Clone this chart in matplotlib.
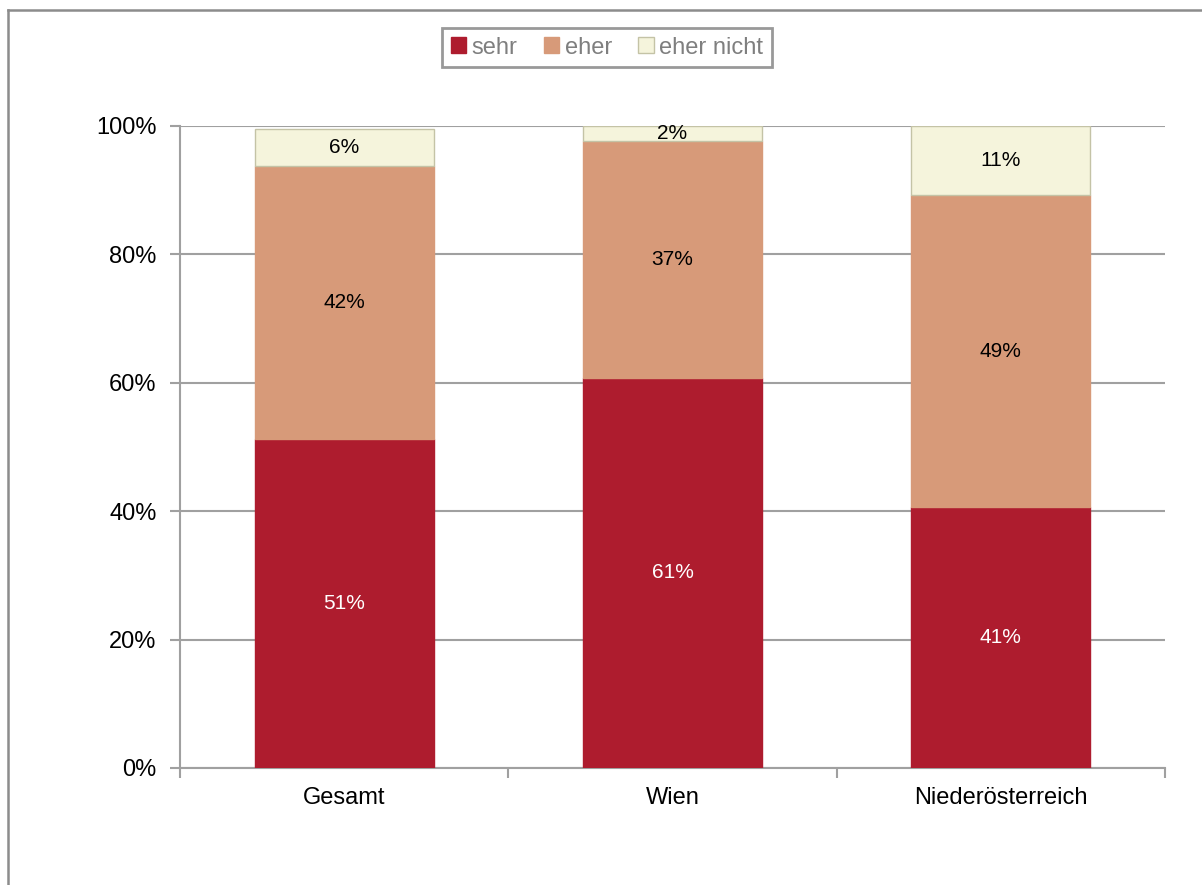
"""Stacked percentage bars: sehr / eher / eher nicht by region."""
import numpy as np
import matplotlib
matplotlib.use('Agg')
import matplotlib.pyplot as plt
from matplotlib.lines import Line2D

plt.rcParams['font.family'] = ['Liberation Sans', 'DejaVu Sans']

categories = ['Gesamt', 'Wien', 'Niederösterreich']
series_names = ['sehr', 'eher', 'eher nicht']
sehr = [51.3, 60.8, 40.6]
eher = [42.5, 36.9, 48.7]
eher_nicht = [5.8, 2.3, 10.7]
yticks = [0, 20, 40, 60, 80, 100]

colors = ['#AE1C2E', '#D79A79', '#F5F4DC']
edges = ['#AE1C2E', '#D79A79', '#C4C3A6']
label_colors = ['white', 'black', 'black']
grid_col = '#A0A0A0'

W, H = 1202, 885
fig = plt.figure(figsize=(W / 100, H / 100), dpi=100)
ax = fig.add_axes([180 / W, 1 - 768 / H, (1165 - 180) / W, (768 - 126) / H])

x = np.arange(len(categories))
bottom = np.zeros(len(categories))
for vals, name, col, ec, lc in zip([sehr, eher, eher_nicht], series_names,
                                   colors, edges, label_colors):
    vals = np.array(vals)
    ax.bar(x, vals, 0.546, bottom=bottom, color=col, edgecolor=ec,
           linewidth=1.0, label=name, zorder=3)
    for xi, b, v in zip(x, bottom, vals):
        ax.text(xi, b + v / 2, f'{v:.0f}%', ha='center', va='center',
                fontsize=15, color=lc, zorder=4)
    bottom += vals

ax.set_xlim(-0.5, 2.5)
ax.set_ylim(0, 100)
ax.set_yticks(yticks)
ax.set_yticklabels([f'{t}%' for t in yticks], fontsize=17)
ax.set_xticks(x)
ax.set_xticklabels(categories, fontsize=17)
ax.set_xticks(np.arange(-0.5, 3.0, 1.0), minor=True)
ax.tick_params(axis='x', which='major', length=0, pad=14)
ax.tick_params(axis='x', which='minor', length=7, width=1.5, color=grid_col)
ax.tick_params(axis='y', length=7, width=1.5, color=grid_col, pad=10)
ax.yaxis.grid(True, color=grid_col, linewidth=1.5, zorder=0)
ax.set_axisbelow(True)
for s in ['top', 'right']:
    ax.spines[s].set_visible(False)
for s in ['left', 'bottom']:
    ax.spines[s].set_color(grid_col)
    ax.spines[s].set_linewidth(1.5)

leg = fig.legend(loc='center', bbox_to_anchor=(607 / W, 1 - 47.5 / H),
                 ncol=3, frameon=True, fancybox=False, fontsize=17,
                 handlelength=0.65, handleheight=0.65, handletextpad=0.25,
                 columnspacing=1.1, borderpad=0.38, labelcolor='#7F7F7F')
leg.get_frame().set_edgecolor('#808080')
leg.get_frame().set_linewidth(2)

# outer chart frame (cropped at the right and bottom)
frame_col = '#8C8C8C'
fig.add_artist(Line2D([7.5 / W, 7.5 / W], [0, 1 - 10 / H], color=frame_col,
                      linewidth=1.8, transform=fig.transFigure))
fig.add_artist(Line2D([7.5 / W, 1], [1 - 10 / H, 1 - 10 / H], color=frame_col,
                      linewidth=1.8, transform=fig.transFigure))

fig.savefig('out.png', dpi=100)
